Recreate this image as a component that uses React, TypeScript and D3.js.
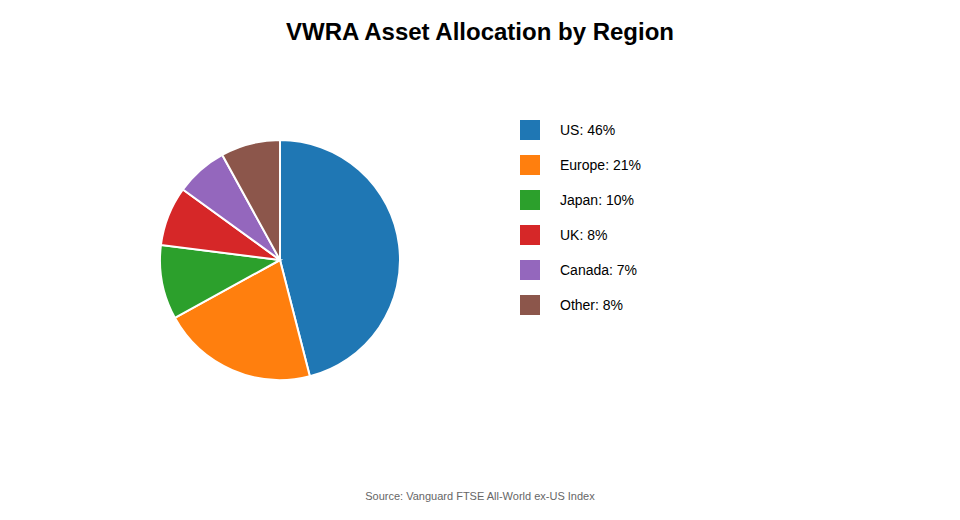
import React from "react"
import * as d3 from "d3"

const regions = ["US", "Europe", "Japan", "UK", "Canada", "Other"]
const shares = [46, 21, 10, 8, 7, 8]
const colors = ["#1f77b4", "#ff7f0e", "#2ca02c", "#d62728", "#9467bd", "#8c564b"]

const WIDTH = 960
const HEIGHT = 520
const FONT = "'Liberation Sans', Arial, Helvetica, sans-serif"

export default function App() {
  const data = regions.map((r, i) => ({ region: r, value: shares[i] }))

  const pie = d3
    .pie<{ region: string; value: number }>()
    .sort(null)
    .value((d) => d.value)
  const arc = d3
    .arc<d3.PieArcDatum<{ region: string; value: number }>>()
    .innerRadius(0)
    .outerRadius(120)

  const arcs = pie(data)

  const legendY = d3
    .scaleBand()
    .domain(regions)
    .range([120, 120 + 35 * regions.length])

  return (
    <svg
      width={WIDTH}
      height={HEIGHT}
      style={{ position: "absolute", left: 0, top: 0, display: "block", background: "#fff" }}
      fontFamily={FONT}
    >
      <text x={WIDTH / 2} y={40} textAnchor="middle" fontSize={24} fontWeight="bold" fill="#000">
        VWRA Asset Allocation by Region
      </text>

      <g transform="translate(280,260)">
        {arcs.map((a, i) => (
          <path key={regions[i]} d={arc(a) ?? ""} fill={colors[i]} stroke="#fff" strokeWidth={2} />
        ))}
      </g>

      <g>
        {data.map((d, i) => (
          <g key={d.region} transform={`translate(520,${legendY(d.region) ?? 0})`}>
            <rect width={20} height={20} fill={colors[i]} />
            <text x={40} y={10} dy="0.35em" fontSize={14} fill="#000">
              {`${d.region}: ${d.value}%`}
            </text>
          </g>
        ))}
      </g>

      <text x={WIDTH / 2} y={500} textAnchor="middle" fontSize={11} fill="#666">
        Source: Vanguard FTSE All-World ex-US Index
      </text>
    </svg>
  )
}
